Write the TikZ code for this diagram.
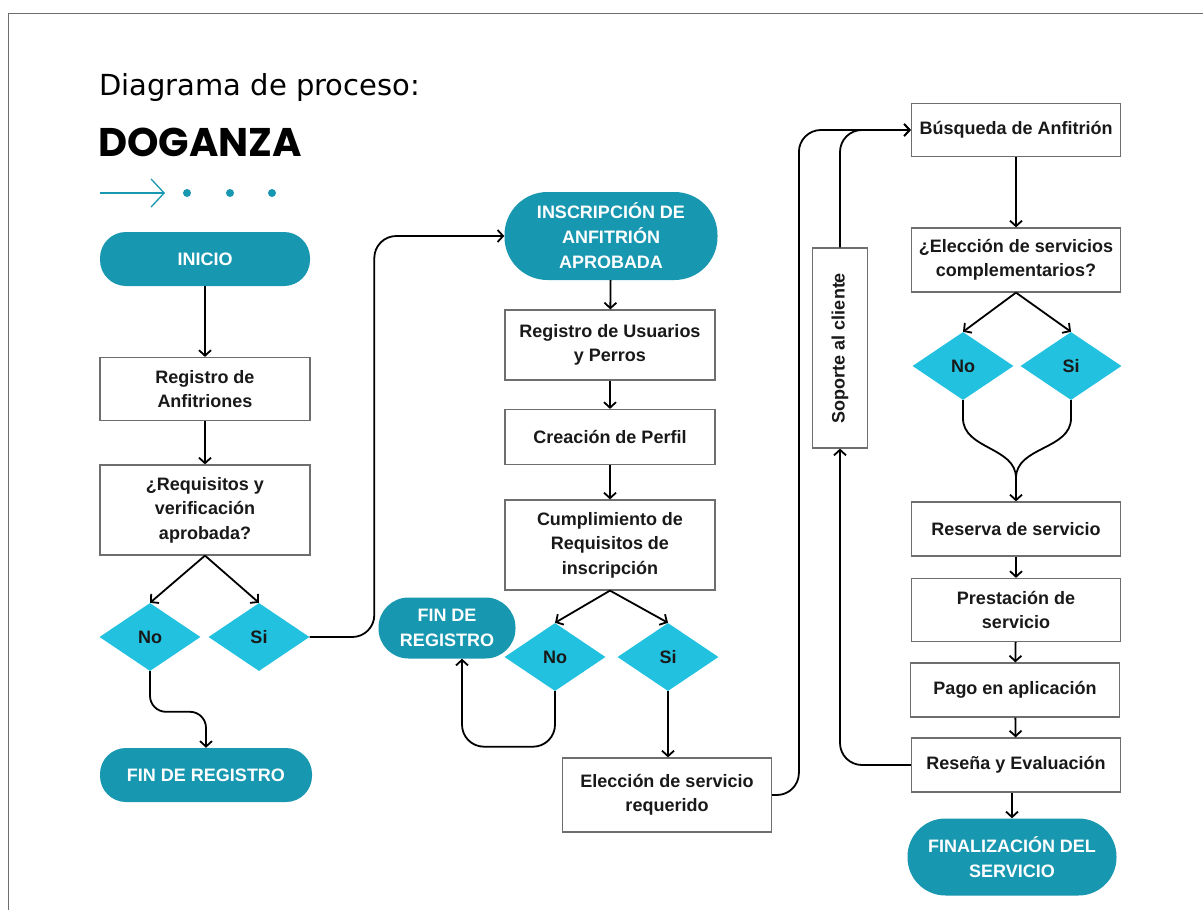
\documentclass[tikz,border=0pt]{standalone}
\usepackage{fontspec}
\setmainfont{Liberation Sans}
\newfontfamily\headfont{DejaVu Sans}
\newfontfamily\brandfont{Poppins}
\usetikzlibrary{arrows.meta}
\usetikzlibrary{shapes.geometric}
\definecolor{petrol}{RGB}{24,151,176}
\definecolor{aqua}{RGB}{34,193,224}
\definecolor{edgegray}{RGB}{110,110,110}
\tikzstyle{box}=[rectangle, draw=edgegray, line width=1.2pt, fill=white, text=black!90, align=center, inner sep=2pt, minimum width=209pt, font=\bfseries\fontsize{18}{24.5}\selectfont]
\tikzstyle{pill}=[rectangle, fill=petrol, text=white, align=center, inner sep=0pt, font=\bfseries\fontsize{18}{25}\selectfont]
\tikzstyle{choice}=[diamond, fill=aqua, text=black!90, minimum width=101pt, minimum height=68pt, inner sep=0pt, font=\bfseries\fontsize{18}{20}\selectfont]
\tikzstyle{link}=[line width=1.8pt, -{Straight Barb[length=5.5pt,width=12pt]}]

\begin{document}
\begin{tikzpicture}[x=1pt, y=-1pt]
      \useasboundingbox (0,0) rectangle (1203,910);
      \draw[edgegray, line width=1pt] (8,910) -- (8,13) -- (1203,13);

      \node[anchor=west, inner sep=0pt, font=\headfont\fontsize{29}{31}\selectfont] (title) at (99,87) {Diagrama de proceso:};
      \node[anchor=west, inner sep=0pt, font=\brandfont\bfseries\fontsize{40}{42}\selectfont] (brand) at (98,142) {DOGANZA};
      \draw[petrol, line width=1.3pt, -{Straight Barb[length=13pt,width=28pt]}] (100,193) -- (165,193);
      \foreach \x in {187,230,272}
        \fill[petrol] (\x,193) circle (4pt);

      % registro de anfitriones
      \node[pill, minimum width=210pt, minimum height=54pt, rounded corners=26pt] (inicio) at (205,259) {INICIO};
      \node[box, minimum width=210pt, minimum height=63pt] (reganf) at (205,389) {Registro de\\Anfitriones};
      \node[box, minimum width=210pt, minimum height=90pt] (req) at (205,510) {¿Requisitos y\\verificación\\aprobada?};
      \node[choice] (noA) at (150,637) {No};
      \node[choice] (siA) at (259,637) {Si};
      \node[pill, minimum width=212pt, minimum height=54pt, rounded corners=26pt] (finA) at (206,775) {FIN DE REGISTRO};

      % inscripcion
      \node[pill, minimum width=213pt, minimum height=88pt, rounded corners=43pt] (insc) at (611,236) {INSCRIPCIÓN DE\\ANFITRIÓN\\APROBADA};
      \node[box, minimum width=210pt, minimum height=70pt] (regusu) at (610,345) {Registro de Usuarios\\y Perros};
      \node[box, minimum width=210pt, minimum height=55pt] (perfil) at (610,437) {Creación de Perfil};
      \node[box, minimum width=210pt, minimum height=90pt] (cumpl) at (610,545) {Cumplimiento de\\Requisitos de\\inscripción};
      \node[choice] (noB) at (555,657) {No};
      \node[choice] (siB) at (668,657) {Si};
      \node[pill, minimum width=137pt, minimum height=61pt, rounded corners=30pt] (finB) at (447,628) {FIN DE\\REGISTRO};
      \node[box, minimum height=74pt] (elec) at (667,795) {Elección de servicio\\requerido};

      % servicio
      \node[box, minimum width=55pt, minimum height=200pt, inner sep=0pt] (soporte) at (840,348) {\rotatebox{90}{Soporte al cliente}};
      \node[box, minimum height=53pt] (busq) at (1016,130) {Búsqueda de Anfitrión};
      \node[box, minimum height=64pt] (compl) at (1016,260) {¿Elección de servicios\\complementarios?};
      \node[choice] (noC) at (963,366) {No};
      \node[choice] (siC) at (1071,366) {Si};
      \coordinate (merge) at (1016,478);
      \node[box, minimum height=54pt] (reserva) at (1016,529) {Reserva de servicio};
      \node[box, minimum height=63pt] (prest) at (1016,610) {Prestación de\\servicio};
      \node[box, minimum height=54pt] (pago) at (1015,690) {Pago en aplicación};
      \node[box, minimum height=54pt] (resena) at (1016,765) {Reseña y Evaluación};
      \node[pill, minimum width=209pt, minimum height=77pt, rounded corners=38pt] (final) at (1012,857) {FINALIZACIÓN DEL\\SERVICIO};

      \draw[link] (inicio) -- (reganf);
      \draw[link] (reganf) -- (req);
      \draw[link] (req.south) -- (noA.north);
      \draw[link] (req.south) -- (siA.north);
      \draw[link, rounded corners=16pt] (noA.south) |- ([yshift=36pt]finA.north) -- (finA.north);
      \draw[link, rounded corners=22pt] (siA.east) -| ([xshift=-130pt]insc.west) -- (insc.west);

      \draw[link] (insc) -- (regusu);
      \draw[link] (regusu) -- (perfil);
      \draw[link] (perfil) -- (cumpl);
      \draw[link] (cumpl.south) -- (noB.north);
      \draw[link] (cumpl.south) -- (siB.north);
      \draw[link, rounded corners=22pt] (noB.south) |- ([xshift=15pt, yshift=-88pt]finB.south) -- ([xshift=15pt]finB.south);
      \draw[link] (siB.south) -- (siB.south |- elec.north);
      \draw[link, rounded corners=22pt] (elec.east) -| ([xshift=-112pt]busq.west) -- (busq.west);

      \draw[link, rounded corners=22pt] (soporte.north) |- (busq.west);
      \draw[link] (busq) -- (compl);
      \draw[link] (compl.south) -- (noC.north);
      \draw[link] (compl.south) -- (siC.north);
      \draw[line width=1.8pt] (noC.south) -- ++(0,18) to[out=-90, in=90] (merge);
      \draw[line width=1.8pt] (siC.south) -- ++(0,18) to[out=-90, in=90] (merge);
      \draw[link] (merge) -- (reserva.north);
      \draw[link] (reserva) -- (prest);
      \draw[link] (prest) -- (pago);
      \draw[link] (pago) -- (resena);
      \draw[link] (final.north |- resena.south) -- (final.north);
      \draw[link, rounded corners=22pt] (resena.west) -| (soporte.south);
    \end{tikzpicture}
\end{document}
